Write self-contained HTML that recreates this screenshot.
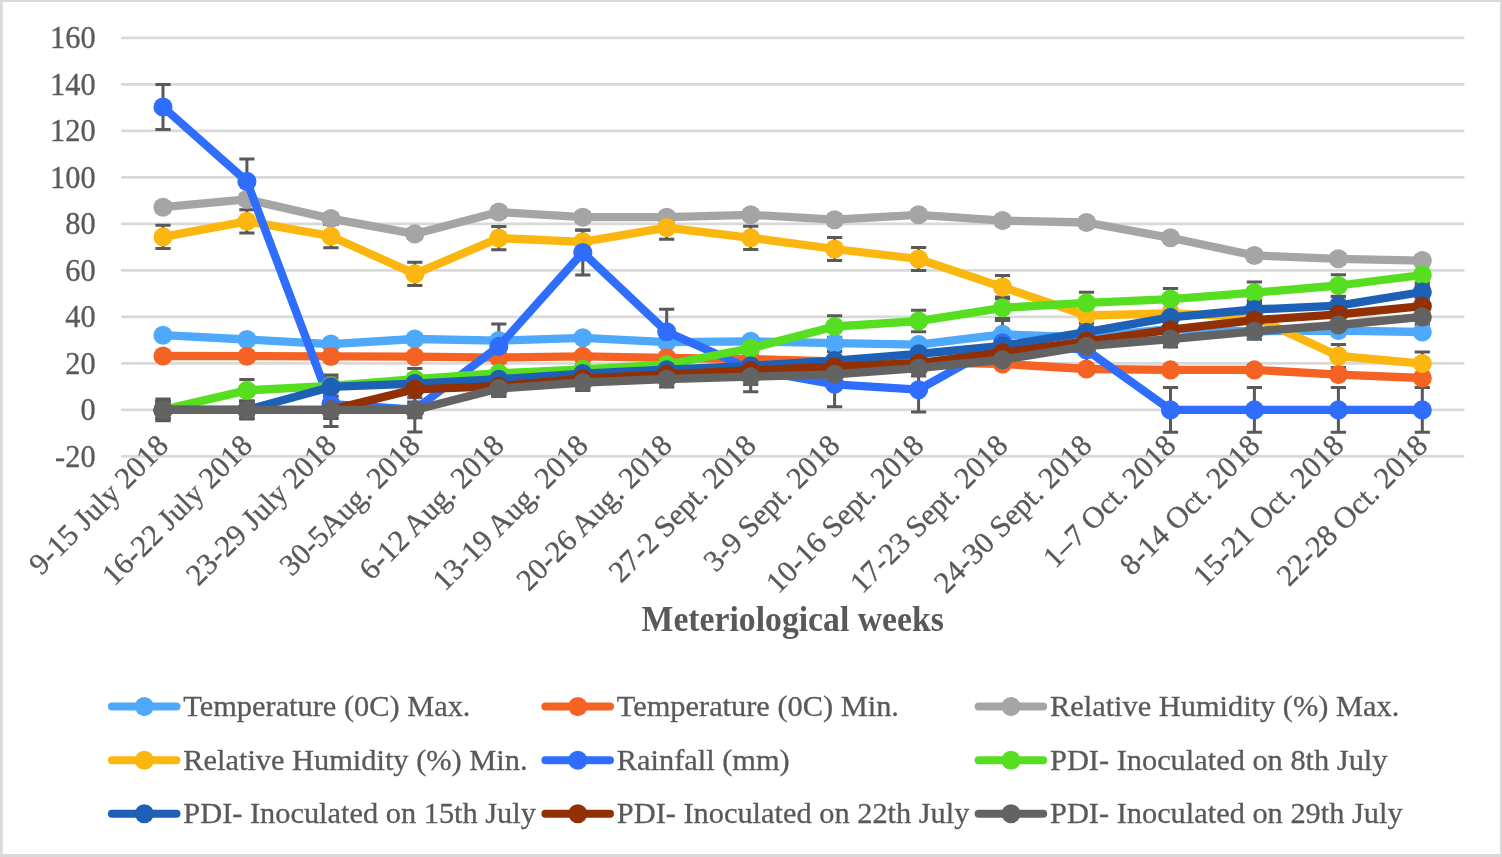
<!DOCTYPE html>
<html lang="en">
<head>
<meta charset="utf-8">
<title>Meteriological weeks chart</title>
<style>
html,body{margin:0;padding:0;background:#fff;}
body{width:1502px;height:857px;overflow:hidden;font-family:"Liberation Serif","DejaVu Serif",serif;}
svg{display:block;}
svg text{font-family:"Liberation Serif","DejaVu Serif",serif;fill:#595959;}
.ax{font-size:30.38px;}
.ax text{stroke:#595959;stroke-width:0.3px;}
.ttl{font-size:33.7px;font-weight:bold;}
.g line{stroke:#d9d9d9;stroke-width:2.9;}
.e{stroke:#595959;stroke-width:3.0;fill:none;}
.s polyline{fill:none;stroke-width:8.3;stroke-linejoin:round;stroke-linecap:round;}
</style>
</head>
<body>
<svg width="1502" height="857" viewBox="0 0 1502 857">
<rect x="0" y="0" width="1502" height="857" fill="#fff"/>
<path fill="#d9d9d9" d="M0 0H1502 V857 H0Z M2.8 1.9 V853.9 H1499.9 V1.9Z" fill-rule="evenodd"/>
<g class="g">
<line x1="121.2" y1="456.40" x2="1464.4" y2="456.40"/>
<line x1="121.2" y1="409.90" x2="1464.4" y2="409.90"/>
<line x1="121.2" y1="363.40" x2="1464.4" y2="363.40"/>
<line x1="121.2" y1="316.90" x2="1464.4" y2="316.90"/>
<line x1="121.2" y1="270.40" x2="1464.4" y2="270.40"/>
<line x1="121.2" y1="223.90" x2="1464.4" y2="223.90"/>
<line x1="121.2" y1="177.40" x2="1464.4" y2="177.40"/>
<line x1="121.2" y1="130.90" x2="1464.4" y2="130.90"/>
<line x1="121.2" y1="84.40" x2="1464.4" y2="84.40"/>
<line x1="121.2" y1="37.90" x2="1464.4" y2="37.90"/>
</g>
<g class="ax" text-anchor="end">
<text transform="translate(95.6 466.5) scale(1 1.07)">-20</text>
<text transform="translate(95.6 420.0) scale(1 1.07)">0</text>
<text transform="translate(95.6 373.5) scale(1 1.07)">20</text>
<text transform="translate(95.6 327.0) scale(1 1.07)">40</text>
<text transform="translate(95.6 280.5) scale(1 1.07)">60</text>
<text transform="translate(95.6 234.0) scale(1 1.07)">80</text>
<text transform="translate(95.6 187.5) scale(1 1.07)">100</text>
<text transform="translate(95.6 141.0) scale(1 1.07)">120</text>
<text transform="translate(95.6 94.5) scale(1 1.07)">140</text>
<text transform="translate(95.6 48.0) scale(1 1.07)">160</text>
</g>
<g class="e">
<path d="M155.4 333.9H170.6M163.0 333.9V336.4M155.4 336.4H170.6M239.3 338.2H254.5M246.9 338.2V340.7M239.3 340.7H254.5M323.3 342.8H338.5M330.9 342.8V345.4M323.3 345.4H338.5M407.2 337.7H422.4M414.8 337.7V340.2M407.2 340.2H422.4M491.2 339.4H506.4M498.8 339.4V341.9M491.2 341.9H506.4M575.2 336.6H590.4M582.8 336.6V339.1M575.2 339.1H590.4M659.1 341.0H674.3M666.7 341.0V343.5M659.1 343.5H674.3M743.1 340.1H758.3M750.7 340.1V342.6M743.1 342.6H758.3M827.0 341.9H842.2M834.6 341.9V344.4M827.0 344.4H842.2M911.0 343.3H926.2M918.6 343.3V345.8M911.0 345.8H926.2M994.9 333.1H1010.1M1002.5 333.1V335.6M994.9 335.6H1010.1M1078.9 336.1H1094.1M1086.5 336.1V338.6M1078.9 338.6H1094.1M1162.9 327.7H1178.1M1170.5 327.7V330.3M1162.9 330.3H1178.1M1246.8 330.1H1262.0M1254.4 330.1V332.6M1246.8 332.6H1262.0M1330.8 329.4H1346.0M1338.4 329.4V331.9M1330.8 331.9H1346.0M1414.7 330.8H1429.9M1422.3 330.8V333.3M1414.7 333.3H1429.9"/>
<path d="M155.4 354.1H170.6M163.0 354.1V357.8M155.4 357.8H170.6M239.3 354.4H254.5M246.9 354.4V358.0M239.3 358.0H254.5M323.3 354.6H338.5M330.9 354.6V358.2M323.3 358.2H338.5M407.2 354.8H422.4M414.8 354.8V358.5M407.2 358.5H422.4M491.2 355.8H506.4M498.8 355.8V359.4M491.2 359.4H506.4M575.2 354.6H590.4M582.8 354.6V358.2M575.2 358.2H590.4M659.1 356.0H674.3M666.7 356.0V359.6M659.1 359.6H674.3M743.1 357.3H758.3M750.7 357.3V360.9M743.1 360.9H758.3M827.0 359.5H842.2M834.6 359.5V363.1M827.0 363.1H842.2M911.0 360.9H926.2M918.6 360.9V364.5M911.0 364.5H926.2M994.9 362.1H1010.1M1002.5 362.1V365.7M994.9 365.7H1010.1M1078.9 367.2H1094.1M1086.5 367.2V370.8M1078.9 370.8H1094.1M1162.9 368.1H1178.1M1170.5 368.1V371.7M1162.9 371.7H1178.1M1246.8 368.1H1262.0M1254.4 368.1V371.7M1246.8 371.7H1262.0M1330.8 372.7H1346.0M1338.4 372.7V376.4M1330.8 376.4H1346.0M1414.7 376.2H1429.9M1422.3 376.2V379.9M1414.7 379.9H1429.9"/>
<path d="M155.4 202.5H170.6M163.0 202.5V211.8M155.4 211.8H170.6M239.3 194.6H254.5M246.9 194.6V203.9M239.3 203.9H254.5M323.3 213.9H338.5M330.9 213.9V223.2M323.3 223.2H338.5M407.2 229.3H422.4M414.8 229.3V238.5M407.2 238.5H422.4M491.2 207.4H506.4M498.8 207.4V216.7M491.2 216.7H506.4M575.2 212.5H590.4M582.8 212.5V221.8M575.2 221.8H590.4M659.1 212.5H674.3M666.7 212.5V221.8M659.1 221.8H674.3M743.1 210.2H758.3M750.7 210.2V219.5M743.1 219.5H758.3M827.0 215.1H842.2M834.6 215.1V224.3M827.0 224.3H842.2M911.0 210.2H926.2M918.6 210.2V219.5M911.0 219.5H926.2M994.9 216.0H1010.1M1002.5 216.0V225.3M994.9 225.3H1010.1M1078.9 217.9H1094.1M1086.5 217.9V227.1M1078.9 227.1H1094.1M1162.9 233.2H1178.1M1170.5 233.2V242.5M1162.9 242.5H1178.1M1246.8 250.9H1262.0M1254.4 250.9V260.2M1246.8 260.2H1262.0M1330.8 254.1H1346.0M1338.4 254.1V263.4M1330.8 263.4H1346.0M1414.7 256.0H1429.9M1422.3 256.0V265.3M1414.7 265.3H1429.9"/>
<path d="M155.4 225.3H170.6M163.0 225.3V248.5M155.4 248.5H170.6M239.3 209.7H254.5M246.9 209.7V232.9M239.3 232.9H254.5M323.3 224.6H338.5M330.9 224.6V247.8M323.3 247.8H338.5M407.2 262.3H422.4M414.8 262.3V285.5M407.2 285.5H422.4M491.2 226.5H506.4M498.8 226.5V249.7M491.2 249.7H506.4M575.2 230.2H590.4M582.8 230.2V253.4M575.2 253.4H590.4M659.1 216.0H674.3M666.7 216.0V239.2M659.1 239.2H674.3M743.1 226.3H758.3M750.7 226.3V249.4M743.1 249.4H758.3M827.0 237.4H842.2M834.6 237.4V260.6M827.0 260.6H842.2M911.0 247.4H926.2M918.6 247.4V270.6M911.0 270.6H926.2M994.9 275.5H1010.1M1002.5 275.5V298.7M994.9 298.7H1010.1M1078.9 303.9H1094.1M1086.5 303.9V327.1M1078.9 327.1H1094.1M1162.9 301.8H1178.1M1170.5 301.8V325.0M1162.9 325.0H1178.1M1246.8 305.5H1262.0M1254.4 305.5V328.7M1246.8 328.7H1262.0M1330.8 344.4H1346.0M1338.4 344.4V367.6M1330.8 367.6H1346.0M1414.7 352.0H1429.9M1422.3 352.0V375.2M1414.7 375.2H1429.9"/>
<path d="M155.4 84.5H170.6M163.0 84.5V129.4M155.4 129.4H170.6M239.3 158.9H254.5M246.9 158.9V203.8M239.3 203.8H254.5M323.3 381.6H338.5M330.9 381.6V426.5M323.3 426.5H338.5M407.2 387.2H422.4M414.8 387.2V432.1M407.2 432.1H422.4M491.2 324.0H506.4M498.8 324.0V368.9M491.2 368.9H506.4M575.2 230.1H590.4M582.8 230.1V274.9M575.2 274.9H590.4M659.1 309.3H674.3M666.7 309.3V354.2M659.1 354.2H674.3M743.1 346.9H758.3M750.7 346.9V391.8M743.1 391.8H758.3M827.0 361.9H842.2M834.6 361.9V406.8M827.0 406.8H842.2M911.0 367.2H926.2M918.6 367.2V412.1M911.0 412.1H926.2M994.9 320.4H1010.1M1002.5 320.4V365.3M994.9 365.3H1010.1M1078.9 327.5H1094.1M1086.5 327.5V372.4M1078.9 372.4H1094.1M1162.9 387.5H1178.1M1170.5 387.5V432.3M1162.9 432.3H1178.1M1246.8 387.5H1262.0M1254.4 387.5V432.3M1246.8 432.3H1262.0M1330.8 387.5H1346.0M1338.4 387.5V432.3M1330.8 432.3H1346.0M1414.7 387.5H1429.9M1422.3 387.5V432.3M1414.7 432.3H1429.9"/>
<path d="M155.4 399.1H170.6M163.0 399.1V420.7M155.4 420.7H170.6M239.3 379.6H254.5M246.9 379.6V401.1M239.3 401.1H254.5M323.3 375.1H338.5M330.9 375.1V396.6M323.3 396.6H338.5M407.2 368.5H422.4M414.8 368.5V390.0M407.2 390.0H422.4M491.2 362.4H506.4M498.8 362.4V383.9M491.2 383.9H506.4M575.2 358.7H590.4M582.8 358.7V380.2M575.2 380.2H590.4M659.1 353.9H674.3M666.7 353.9V375.4M659.1 375.4H674.3M743.1 337.5H758.3M750.7 337.5V359.0M743.1 359.0H758.3M827.0 315.8H842.2M834.6 315.8V337.3M827.0 337.3H842.2M911.0 310.3H926.2M918.6 310.3V331.8M911.0 331.8H926.2M994.9 297.1H1010.1M1002.5 297.1V318.6M994.9 318.6H1010.1M1078.9 292.2H1094.1M1086.5 292.2V313.7M1078.9 313.7H1094.1M1162.9 288.4H1178.1M1170.5 288.4V309.9M1162.9 309.9H1178.1M1246.8 282.0H1262.0M1254.4 282.0V303.5M1246.8 303.5H1262.0M1330.8 274.8H1346.0M1338.4 274.8V296.3M1330.8 296.3H1346.0M1414.7 264.3H1429.9M1422.3 264.3V285.8M1414.7 285.8H1429.9"/>
<path d="M155.4 400.9H170.6M163.0 400.9V418.9M155.4 418.9H170.6M239.3 400.9H254.5M246.9 400.9V418.9M239.3 418.9H254.5M323.3 377.8H338.5M330.9 377.8V395.9M323.3 395.9H338.5M407.2 374.6H422.4M414.8 374.6V392.7M407.2 392.7H422.4M491.2 370.2H506.4M498.8 370.2V388.3M491.2 388.3H506.4M575.2 364.6H590.4M582.8 364.6V382.7M575.2 382.7H590.4M659.1 360.6H674.3M666.7 360.6V378.7M659.1 378.7H674.3M743.1 356.8H758.3M750.7 356.8V374.9M743.1 374.9H758.3M827.0 351.6H842.2M834.6 351.6V369.7M827.0 369.7H842.2M911.0 344.8H926.2M918.6 344.8V362.9M911.0 362.9H926.2M994.9 336.9H1010.1M1002.5 336.9V355.0M994.9 355.0H1010.1M1078.9 323.2H1094.1M1086.5 323.2V341.3M1078.9 341.3H1094.1M1162.9 308.3H1178.1M1170.5 308.3V326.4M1162.9 326.4H1178.1M1246.8 300.4H1262.0M1254.4 300.4V318.5M1246.8 318.5H1262.0M1330.8 296.7H1346.0M1338.4 296.7V314.8M1330.8 314.8H1346.0M1414.7 283.0H1429.9M1422.3 283.0V301.1M1414.7 301.1H1429.9"/>
<path d="M155.4 401.4H170.6M163.0 401.4V418.4M155.4 418.4H170.6M239.3 401.4H254.5M246.9 401.4V418.4M239.3 418.4H254.5M323.3 401.4H338.5M330.9 401.4V418.4M323.3 418.4H338.5M407.2 380.8H422.4M414.8 380.8V397.8M407.2 397.8H422.4M491.2 377.7H506.4M498.8 377.7V394.7M491.2 394.7H506.4M575.2 370.2H590.4M582.8 370.2V387.3M575.2 387.3H590.4M659.1 365.8H674.3M666.7 365.8V382.8M659.1 382.8H674.3M743.1 362.0H758.3M750.7 362.0V379.0M743.1 379.0H758.3M827.0 358.1H842.2M834.6 358.1V375.2M827.0 375.2H842.2M911.0 354.7H926.2M918.6 354.7V371.7M911.0 371.7H926.2M994.9 344.2H1010.1M1002.5 344.2V361.2M994.9 361.2H1010.1M1078.9 332.8H1094.1M1086.5 332.8V349.8M1078.9 349.8H1094.1M1162.9 321.2H1178.1M1170.5 321.2V338.2M1162.9 338.2H1178.1M1246.8 311.6H1262.0M1254.4 311.6V328.7M1246.8 328.7H1262.0M1330.8 305.8H1346.0M1338.4 305.8V322.9M1330.8 322.9H1346.0M1414.7 297.7H1429.9M1422.3 297.7V314.7M1414.7 314.7H1429.9"/>
<path d="M155.4 402.0H170.6M163.0 402.0V417.8M155.4 417.8H170.6M239.3 402.0H254.5M246.9 402.0V417.8M239.3 417.8H254.5M323.3 402.0H338.5M330.9 402.0V417.8M323.3 417.8H338.5M407.2 402.0H422.4M414.8 402.0V417.8M407.2 417.8H422.4M491.2 380.6H506.4M498.8 380.6V396.4M491.2 396.4H506.4M575.2 374.6H590.4M582.8 374.6V390.4M575.2 390.4H590.4M659.1 371.1H674.3M666.7 371.1V386.9M659.1 386.9H674.3M743.1 368.8H758.3M750.7 368.8V384.6M743.1 384.6H758.3M827.0 366.4H842.2M834.6 366.4V382.2M827.0 382.2H842.2M911.0 360.1H926.2M918.6 360.1V376.0M911.0 376.0H926.2M994.9 351.8H1010.1M1002.5 351.8V367.6M994.9 367.6H1010.1M1078.9 338.3H1094.1M1086.5 338.3V354.1M1078.9 354.1H1094.1M1162.9 331.1H1178.1M1170.5 331.1V346.9M1162.9 346.9H1178.1M1246.8 323.4H1262.0M1254.4 323.4V339.2M1246.8 339.2H1262.0M1330.8 317.1H1346.0M1338.4 317.1V332.9M1330.8 332.9H1346.0M1414.7 309.0H1429.9M1422.3 309.0V324.8M1414.7 324.8H1429.9"/>
</g>
<g class="s" stroke="#4ea9fb" fill="#4ea9fb">
<polyline points="163.0,335.2 246.9,339.5 330.9,344.1 414.8,339.0 498.8,340.6 582.8,337.8 666.7,342.2 750.7,341.3 834.6,343.2 918.6,344.6 1002.5,334.3 1086.5,337.4 1170.5,329.0 1254.4,331.3 1338.4,330.6 1422.3,332.0"/>
<circle cx="163.0" cy="335.2" r="9.55" stroke="none"/>
<circle cx="246.9" cy="339.5" r="9.55" stroke="none"/>
<circle cx="330.9" cy="344.1" r="9.55" stroke="none"/>
<circle cx="414.8" cy="339.0" r="9.55" stroke="none"/>
<circle cx="498.8" cy="340.6" r="9.55" stroke="none"/>
<circle cx="582.8" cy="337.8" r="9.55" stroke="none"/>
<circle cx="666.7" cy="342.2" r="9.55" stroke="none"/>
<circle cx="750.7" cy="341.3" r="9.55" stroke="none"/>
<circle cx="834.6" cy="343.2" r="9.55" stroke="none"/>
<circle cx="918.6" cy="344.6" r="9.55" stroke="none"/>
<circle cx="1002.5" cy="334.3" r="9.55" stroke="none"/>
<circle cx="1086.5" cy="337.4" r="9.55" stroke="none"/>
<circle cx="1170.5" cy="329.0" r="9.55" stroke="none"/>
<circle cx="1254.4" cy="331.3" r="9.55" stroke="none"/>
<circle cx="1338.4" cy="330.6" r="9.55" stroke="none"/>
<circle cx="1422.3" cy="332.0" r="9.55" stroke="none"/>
</g>
<g class="s" stroke="#f46323" fill="#f46323">
<polyline points="163.0,356.0 246.9,356.2 330.9,356.4 414.8,356.7 498.8,357.6 582.8,356.4 666.7,357.8 750.7,359.1 834.6,361.3 918.6,362.7 1002.5,363.9 1086.5,369.0 1170.5,369.9 1254.4,369.9 1338.4,374.6 1422.3,378.0"/>
<circle cx="163.0" cy="356.0" r="9.55" stroke="none"/>
<circle cx="246.9" cy="356.2" r="9.55" stroke="none"/>
<circle cx="330.9" cy="356.4" r="9.55" stroke="none"/>
<circle cx="414.8" cy="356.7" r="9.55" stroke="none"/>
<circle cx="498.8" cy="357.6" r="9.55" stroke="none"/>
<circle cx="582.8" cy="356.4" r="9.55" stroke="none"/>
<circle cx="666.7" cy="357.8" r="9.55" stroke="none"/>
<circle cx="750.7" cy="359.1" r="9.55" stroke="none"/>
<circle cx="834.6" cy="361.3" r="9.55" stroke="none"/>
<circle cx="918.6" cy="362.7" r="9.55" stroke="none"/>
<circle cx="1002.5" cy="363.9" r="9.55" stroke="none"/>
<circle cx="1086.5" cy="369.0" r="9.55" stroke="none"/>
<circle cx="1170.5" cy="369.9" r="9.55" stroke="none"/>
<circle cx="1254.4" cy="369.9" r="9.55" stroke="none"/>
<circle cx="1338.4" cy="374.6" r="9.55" stroke="none"/>
<circle cx="1422.3" cy="378.0" r="9.55" stroke="none"/>
</g>
<g class="s" stroke="#a5a5a5" fill="#a5a5a5">
<polyline points="163.0,207.2 246.9,199.3 330.9,218.6 414.8,233.9 498.8,212.0 582.8,217.2 666.7,217.2 750.7,214.8 834.6,219.7 918.6,214.8 1002.5,220.6 1086.5,222.5 1170.5,237.8 1254.4,255.5 1338.4,258.8 1422.3,260.6"/>
<circle cx="163.0" cy="207.2" r="9.55" stroke="none"/>
<circle cx="246.9" cy="199.3" r="9.55" stroke="none"/>
<circle cx="330.9" cy="218.6" r="9.55" stroke="none"/>
<circle cx="414.8" cy="233.9" r="9.55" stroke="none"/>
<circle cx="498.8" cy="212.0" r="9.55" stroke="none"/>
<circle cx="582.8" cy="217.2" r="9.55" stroke="none"/>
<circle cx="666.7" cy="217.2" r="9.55" stroke="none"/>
<circle cx="750.7" cy="214.8" r="9.55" stroke="none"/>
<circle cx="834.6" cy="219.7" r="9.55" stroke="none"/>
<circle cx="918.6" cy="214.8" r="9.55" stroke="none"/>
<circle cx="1002.5" cy="220.6" r="9.55" stroke="none"/>
<circle cx="1086.5" cy="222.5" r="9.55" stroke="none"/>
<circle cx="1170.5" cy="237.8" r="9.55" stroke="none"/>
<circle cx="1254.4" cy="255.5" r="9.55" stroke="none"/>
<circle cx="1338.4" cy="258.8" r="9.55" stroke="none"/>
<circle cx="1422.3" cy="260.6" r="9.55" stroke="none"/>
</g>
<g class="s" stroke="#fbb70f" fill="#fbb70f">
<polyline points="163.0,236.9 246.9,221.3 330.9,236.2 414.8,273.9 498.8,238.1 582.8,241.8 666.7,227.6 750.7,237.8 834.6,249.0 918.6,259.0 1002.5,287.1 1086.5,315.5 1170.5,313.4 1254.4,317.1 1338.4,356.0 1422.3,363.6"/>
<circle cx="163.0" cy="236.9" r="9.55" stroke="none"/>
<circle cx="246.9" cy="221.3" r="9.55" stroke="none"/>
<circle cx="330.9" cy="236.2" r="9.55" stroke="none"/>
<circle cx="414.8" cy="273.9" r="9.55" stroke="none"/>
<circle cx="498.8" cy="238.1" r="9.55" stroke="none"/>
<circle cx="582.8" cy="241.8" r="9.55" stroke="none"/>
<circle cx="666.7" cy="227.6" r="9.55" stroke="none"/>
<circle cx="750.7" cy="237.8" r="9.55" stroke="none"/>
<circle cx="834.6" cy="249.0" r="9.55" stroke="none"/>
<circle cx="918.6" cy="259.0" r="9.55" stroke="none"/>
<circle cx="1002.5" cy="287.1" r="9.55" stroke="none"/>
<circle cx="1086.5" cy="315.5" r="9.55" stroke="none"/>
<circle cx="1170.5" cy="313.4" r="9.55" stroke="none"/>
<circle cx="1254.4" cy="317.1" r="9.55" stroke="none"/>
<circle cx="1338.4" cy="356.0" r="9.55" stroke="none"/>
<circle cx="1422.3" cy="363.6" r="9.55" stroke="none"/>
</g>
<g class="s" stroke="#2f6dfd" fill="#2f6dfd">
<polyline points="163.0,107.0 246.9,181.4 330.9,404.1 414.8,409.7 498.8,346.4 582.8,252.5 666.7,331.8 750.7,369.3 834.6,384.3 918.6,389.7 1002.5,342.8 1086.5,349.9 1170.5,409.9 1254.4,409.9 1338.4,409.9 1422.3,409.9"/>
<circle cx="163.0" cy="107.0" r="9.55" stroke="none"/>
<circle cx="246.9" cy="181.4" r="9.55" stroke="none"/>
<circle cx="330.9" cy="404.1" r="9.55" stroke="none"/>
<circle cx="414.8" cy="409.7" r="9.55" stroke="none"/>
<circle cx="498.8" cy="346.4" r="9.55" stroke="none"/>
<circle cx="582.8" cy="252.5" r="9.55" stroke="none"/>
<circle cx="666.7" cy="331.8" r="9.55" stroke="none"/>
<circle cx="750.7" cy="369.3" r="9.55" stroke="none"/>
<circle cx="834.6" cy="384.3" r="9.55" stroke="none"/>
<circle cx="918.6" cy="389.7" r="9.55" stroke="none"/>
<circle cx="1002.5" cy="342.8" r="9.55" stroke="none"/>
<circle cx="1086.5" cy="349.9" r="9.55" stroke="none"/>
<circle cx="1170.5" cy="409.9" r="9.55" stroke="none"/>
<circle cx="1254.4" cy="409.9" r="9.55" stroke="none"/>
<circle cx="1338.4" cy="409.9" r="9.55" stroke="none"/>
<circle cx="1422.3" cy="409.9" r="9.55" stroke="none"/>
</g>
<g class="s" stroke="#56df20" fill="#56df20">
<polyline points="163.0,409.9 246.9,390.4 330.9,385.8 414.8,379.2 498.8,373.2 582.8,369.4 666.7,364.7 750.7,348.3 834.6,326.5 918.6,321.1 1002.5,307.8 1086.5,302.9 1170.5,299.1 1254.4,292.7 1338.4,285.5 1422.3,275.0"/>
<circle cx="163.0" cy="409.9" r="9.55" stroke="none"/>
<circle cx="246.9" cy="390.4" r="9.55" stroke="none"/>
<circle cx="330.9" cy="385.8" r="9.55" stroke="none"/>
<circle cx="414.8" cy="379.2" r="9.55" stroke="none"/>
<circle cx="498.8" cy="373.2" r="9.55" stroke="none"/>
<circle cx="582.8" cy="369.4" r="9.55" stroke="none"/>
<circle cx="666.7" cy="364.7" r="9.55" stroke="none"/>
<circle cx="750.7" cy="348.3" r="9.55" stroke="none"/>
<circle cx="834.6" cy="326.5" r="9.55" stroke="none"/>
<circle cx="918.6" cy="321.1" r="9.55" stroke="none"/>
<circle cx="1002.5" cy="307.8" r="9.55" stroke="none"/>
<circle cx="1086.5" cy="302.9" r="9.55" stroke="none"/>
<circle cx="1170.5" cy="299.1" r="9.55" stroke="none"/>
<circle cx="1254.4" cy="292.7" r="9.55" stroke="none"/>
<circle cx="1338.4" cy="285.5" r="9.55" stroke="none"/>
<circle cx="1422.3" cy="275.0" r="9.55" stroke="none"/>
</g>
<g class="s" stroke="#1d60b5" fill="#1d60b5">
<polyline points="163.0,409.9 246.9,409.9 330.9,386.9 414.8,383.6 498.8,379.2 582.8,373.6 666.7,369.7 750.7,365.8 834.6,360.6 918.6,353.9 1002.5,346.0 1086.5,332.2 1170.5,317.4 1254.4,309.5 1338.4,305.7 1422.3,292.0"/>
<circle cx="163.0" cy="409.9" r="9.55" stroke="none"/>
<circle cx="246.9" cy="409.9" r="9.55" stroke="none"/>
<circle cx="330.9" cy="386.9" r="9.55" stroke="none"/>
<circle cx="414.8" cy="383.6" r="9.55" stroke="none"/>
<circle cx="498.8" cy="379.2" r="9.55" stroke="none"/>
<circle cx="582.8" cy="373.6" r="9.55" stroke="none"/>
<circle cx="666.7" cy="369.7" r="9.55" stroke="none"/>
<circle cx="750.7" cy="365.8" r="9.55" stroke="none"/>
<circle cx="834.6" cy="360.6" r="9.55" stroke="none"/>
<circle cx="918.6" cy="353.9" r="9.55" stroke="none"/>
<circle cx="1002.5" cy="346.0" r="9.55" stroke="none"/>
<circle cx="1086.5" cy="332.2" r="9.55" stroke="none"/>
<circle cx="1170.5" cy="317.4" r="9.55" stroke="none"/>
<circle cx="1254.4" cy="309.5" r="9.55" stroke="none"/>
<circle cx="1338.4" cy="305.7" r="9.55" stroke="none"/>
<circle cx="1422.3" cy="292.0" r="9.55" stroke="none"/>
</g>
<g class="s" stroke="#913005" fill="#913005">
<polyline points="163.0,409.9 246.9,409.9 330.9,409.9 414.8,389.3 498.8,386.2 582.8,378.7 666.7,374.3 750.7,370.5 834.6,366.7 918.6,363.2 1002.5,352.7 1086.5,341.3 1170.5,329.7 1254.4,320.2 1338.4,314.3 1422.3,306.2"/>
<circle cx="163.0" cy="409.9" r="9.55" stroke="none"/>
<circle cx="246.9" cy="409.9" r="9.55" stroke="none"/>
<circle cx="330.9" cy="409.9" r="9.55" stroke="none"/>
<circle cx="414.8" cy="389.3" r="9.55" stroke="none"/>
<circle cx="498.8" cy="386.2" r="9.55" stroke="none"/>
<circle cx="582.8" cy="378.7" r="9.55" stroke="none"/>
<circle cx="666.7" cy="374.3" r="9.55" stroke="none"/>
<circle cx="750.7" cy="370.5" r="9.55" stroke="none"/>
<circle cx="834.6" cy="366.7" r="9.55" stroke="none"/>
<circle cx="918.6" cy="363.2" r="9.55" stroke="none"/>
<circle cx="1002.5" cy="352.7" r="9.55" stroke="none"/>
<circle cx="1086.5" cy="341.3" r="9.55" stroke="none"/>
<circle cx="1170.5" cy="329.7" r="9.55" stroke="none"/>
<circle cx="1254.4" cy="320.2" r="9.55" stroke="none"/>
<circle cx="1338.4" cy="314.3" r="9.55" stroke="none"/>
<circle cx="1422.3" cy="306.2" r="9.55" stroke="none"/>
</g>
<g class="s" stroke="#636363" fill="#636363">
<polyline points="163.0,409.9 246.9,409.9 330.9,409.9 414.8,409.9 498.8,388.5 582.8,382.5 666.7,379.0 750.7,376.7 834.6,374.3 918.6,368.0 1002.5,359.7 1086.5,346.2 1170.5,339.0 1254.4,331.3 1338.4,325.0 1422.3,316.9"/>
<circle cx="163.0" cy="409.9" r="9.55" stroke="none"/>
<circle cx="246.9" cy="409.9" r="9.55" stroke="none"/>
<circle cx="330.9" cy="409.9" r="9.55" stroke="none"/>
<circle cx="414.8" cy="409.9" r="9.55" stroke="none"/>
<circle cx="498.8" cy="388.5" r="9.55" stroke="none"/>
<circle cx="582.8" cy="382.5" r="9.55" stroke="none"/>
<circle cx="666.7" cy="379.0" r="9.55" stroke="none"/>
<circle cx="750.7" cy="376.7" r="9.55" stroke="none"/>
<circle cx="834.6" cy="374.3" r="9.55" stroke="none"/>
<circle cx="918.6" cy="368.0" r="9.55" stroke="none"/>
<circle cx="1002.5" cy="359.7" r="9.55" stroke="none"/>
<circle cx="1086.5" cy="346.2" r="9.55" stroke="none"/>
<circle cx="1170.5" cy="339.0" r="9.55" stroke="none"/>
<circle cx="1254.4" cy="331.3" r="9.55" stroke="none"/>
<circle cx="1338.4" cy="325.0" r="9.55" stroke="none"/>
<circle cx="1422.3" cy="316.9" r="9.55" stroke="none"/>
</g>
<g class="ax" text-anchor="end">
<text transform="translate(170.0 447.3) rotate(-45) scale(1 1.0)">9-15 July 2018</text>
<text transform="translate(253.9 447.3) rotate(-45) scale(1 1.0)">16-22 July 2018</text>
<text transform="translate(337.9 447.3) rotate(-45) scale(1 1.0)">23-29 July 2018</text>
<text transform="translate(421.8 447.3) rotate(-45) scale(1 1.0)">30-5Aug. 2018</text>
<text transform="translate(505.8 447.3) rotate(-45) scale(1 1.0)">6-12 Aug. 2018</text>
<text transform="translate(589.8 447.3) rotate(-45) scale(1 1.0)">13-19 Aug. 2018</text>
<text transform="translate(673.7 447.3) rotate(-45) scale(1 1.0)">20-26 Aug. 2018</text>
<text transform="translate(757.7 447.3) rotate(-45) scale(1 1.0)">27-2 Sept. 2018</text>
<text transform="translate(841.6 447.3) rotate(-45) scale(1 1.0)">3-9 Sept. 2018</text>
<text transform="translate(925.6 447.3) rotate(-45) scale(1 1.0)">10-16 Sept. 2018</text>
<text transform="translate(1009.5 447.3) rotate(-45) scale(1 1.0)">17-23 Sept. 2018</text>
<text transform="translate(1093.5 447.3) rotate(-45) scale(1 1.0)">24-30 Sept. 2018</text>
<text transform="translate(1177.5 447.3) rotate(-45) scale(1 1.0)">1–7 Oct. 2018</text>
<text transform="translate(1261.4 447.3) rotate(-45) scale(1 1.0)">8-14 Oct. 2018</text>
<text transform="translate(1345.4 447.3) rotate(-45) scale(1 1.0)">15-21 Oct. 2018</text>
<text transform="translate(1429.3 447.3) rotate(-45) scale(1 1.0)">22-28 Oct. 2018</text>
</g>
<text class="ttl" text-anchor="middle" transform="translate(792.7 630.7) scale(1 1.04)">Meteriological weeks</text>
<g class="ax">
<line x1="111.9" y1="706.6" x2="176.5" y2="706.6" stroke="#4ea9fb" stroke-width="8" stroke-linecap="round"/><circle cx="144.3" cy="706.6" r="9.55" fill="#4ea9fb"/><text transform="translate(183.3 716.1) scale(1 1.0)">Temperature (0C) Max.</text>
<line x1="545.4" y1="706.6" x2="610.0" y2="706.6" stroke="#f46323" stroke-width="8" stroke-linecap="round"/><circle cx="577.8" cy="706.6" r="9.55" fill="#f46323"/><text transform="translate(616.8 716.1) scale(1 1.0)">Temperature (0C) Min.</text>
<line x1="978.6" y1="706.6" x2="1043.2" y2="706.6" stroke="#a5a5a5" stroke-width="8" stroke-linecap="round"/><circle cx="1011.0" cy="706.6" r="9.55" fill="#a5a5a5"/><text transform="translate(1050.0 716.1) scale(1 1.0)">Relative Humidity (%) Max.</text>
<line x1="111.9" y1="760.2" x2="176.5" y2="760.2" stroke="#fbb70f" stroke-width="8" stroke-linecap="round"/><circle cx="144.3" cy="760.2" r="9.55" fill="#fbb70f"/><text transform="translate(183.3 769.7) scale(1 1.0)">Relative Humidity (%) Min.</text>
<line x1="545.4" y1="760.2" x2="610.0" y2="760.2" stroke="#2f6dfd" stroke-width="8" stroke-linecap="round"/><circle cx="577.8" cy="760.2" r="9.55" fill="#2f6dfd"/><text transform="translate(616.8 769.7) scale(1 1.0)">Rainfall (mm)</text>
<line x1="978.6" y1="760.2" x2="1043.2" y2="760.2" stroke="#56df20" stroke-width="8" stroke-linecap="round"/><circle cx="1011.0" cy="760.2" r="9.55" fill="#56df20"/><text transform="translate(1050.0 769.7) scale(1 1.0)">PDI- Inoculated on 8th July</text>
<line x1="111.9" y1="813.8" x2="176.5" y2="813.8" stroke="#1d60b5" stroke-width="8" stroke-linecap="round"/><circle cx="144.3" cy="813.8" r="9.55" fill="#1d60b5"/><text transform="translate(183.3 823.3) scale(1 1.0)">PDI- Inoculated on 15th July</text>
<line x1="545.4" y1="813.8" x2="610.0" y2="813.8" stroke="#913005" stroke-width="8" stroke-linecap="round"/><circle cx="577.8" cy="813.8" r="9.55" fill="#913005"/><text transform="translate(616.8 823.3) scale(1 1.0)">PDI- Inoculated on 22th July</text>
<line x1="978.6" y1="813.8" x2="1043.2" y2="813.8" stroke="#636363" stroke-width="8" stroke-linecap="round"/><circle cx="1011.0" cy="813.8" r="9.55" fill="#636363"/><text transform="translate(1050.0 823.3) scale(1 1.0)">PDI- Inoculated on 29th July</text>
</g>
</svg>
</body>
</html>
